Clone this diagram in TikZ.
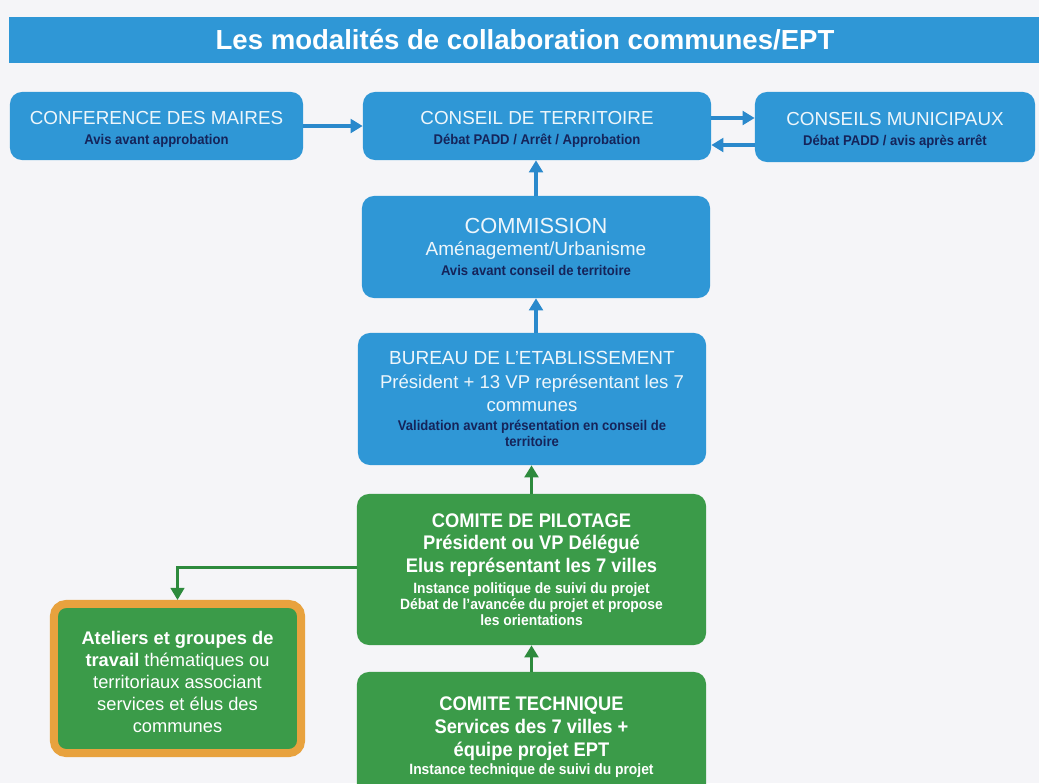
\documentclass[tikz,border=0pt]{standalone}
\usepackage{fontspec}
\setmainfont{Liberation Sans}
\newfontfamily\narrowsf[FakeStretch=0.93]{Liberation Sans}
\usetikzlibrary{arrows.meta,positioning}
\definecolor{eptblue}{HTML}{2F97D6}
\definecolor{eptarrow}{HTML}{2A89CC}
\definecolor{eptgreen}{HTML}{3B9B49}
\definecolor{eptgarrow}{HTML}{2D8A3D}
\definecolor{eptorange}{HTML}{E8A23E}
\definecolor{eptnavy}{HTML}{15245A}
\definecolor{eptpaper}{HTML}{F5F5F8}
\definecolor{eptlight}{HTML}{EEF6FB}
\newcommand{\hd}{\fontsize{13.4}{16}\selectfont\rule{0pt}{14pt}}
\newcommand{\mdsz}{\fontsize{13.2}{16}\selectfont}
\newcommand{\sm}{\narrowsf\bfseries\fontsize{10}{16}\selectfont\color{eptnavy}}
\newcommand{\gh}{\narrowsf\bfseries\fontsize{14}{16}\selectfont}
\newcommand{\gsm}{\narrowsf\bfseries\fontsize{10.6}{16}\selectfont}
\begin{document}
\begin{tikzpicture}[x=0.025cm,y=-0.025cm,
 blk/.style={fill=eptblue,rounded corners=3mm,align=center,inner sep=0pt,text=eptlight,%
   font=\fontsize{13}{16}\selectfont},
 gblk/.style={fill=eptgreen,rounded corners=3mm,align=center,inner sep=0pt,text=white,%
   font=\fontsize{13}{16}\selectfont},
 arr/.style={-{Triangle[length=3mm,width=3.4mm]},draw=eptarrow,line width=2.2pt},
 garr/.style={-{Triangle[length=3mm,width=3.4mm]},draw=eptgarrow,line width=2.2pt}]
\fill[eptpaper] (0,0) rectangle (1039,783);
\useasboundingbox (0,0) rectangle (1039,783);
\node[fill=eptblue,text=white,font=\bfseries\fontsize{19.6}{22}\selectfont,%
  minimum width=25.8cm,minimum height=1.15cm,inner sep=0pt] (title) at (525,40)
  {Les modalités de collaboration communes/EPT};
\node[blk,minimum width=7.325cm,minimum height=1.7cm] (maires) at (156.5,126)
  {\hd CONFERENCE DES MAIRES\\[-1.8pt]\sm Avis avant approbation};
\node[blk,minimum width=8.7cm,minimum height=1.7cm] (terr) at (537,126)
  {\hd CONSEIL DE TERRITOIRE\\[-1.8pt]\sm Débat PADD / Arrêt / Approbation};
\node[blk,minimum width=7cm,minimum height=1.75cm] (munic) at (895,127)
  {\hd CONSEILS MUNICIPAUX\\[-1.8pt]\sm Débat PADD / avis après arrêt};
\node[blk,minimum width=8.7cm,minimum height=2.55cm] (comm) at (536,247)
  {\fontsize{15.5}{16}\selectfont COMMISSION\\[-0.4pt]\fontsize{13.5}{16}\selectfont Aménagement/Urbanisme\\[-1.8pt]%
  \sm Avis avant conseil de territoire};
\node[blk,minimum width=8.7cm,minimum height=3.3cm] (bureau) at (532,399)
  {\fontsize{13.5}{16}\selectfont BUREAU DE L’ETABLISSEMENT\\[0.4pt]\mdsz Président + 13 VP représentant les 7\\[0.4pt]%
  \mdsz communes\\[-2.5pt]%
  \sm Validation avant présentation en conseil de\\[-4.6pt]\sm territoire};
\node[gblk,minimum width=8.725cm,minimum height=3.775cm] (copil) at (531.5,569.5)
  {\gh COMITE DE PILOTAGE\\\gh Président ou VP Délégué\\\gh Elus représentant les 7 villes\\[-1pt]%
  \gsm Instance politique de suivi du projet\\[-4.6pt]\gsm Débat de l’avancée du projet et propose\\[-4.6pt]%
  \gsm les orientations};
\node[gblk,draw=eptorange,line width=0.2cm,minimum width=6.175cm,minimum height=3.725cm,%
  font=\fontsize{13}{15.7}\selectfont] (ateliers) at (177.5,678.5)
  {\rule{0pt}{14pt}\textbf{Ateliers et groupes de}\\\textbf{travail} thématiques ou\\territoriaux associant\\%
  services et élus des\\communes};
\node[gblk,minimum width=8.725cm,minimum height=3.25cm] (cotech) at (531.5,737)
  {\gh COMITE TECHNIQUE\\[0.3pt]\gh Services des 7 villes +\\[0.3pt]\gh équipe projet EPT\\[-3.5pt]%
  \gsm Instance technique de suivi du projet};
\draw[arr] (maires)--(terr);
\draw[arr] ([yshift=2mm]terr.east)--([yshift=2mm]terr.east -| munic.west);
\draw[arr] ([yshift=-4.5mm]munic.west)--([yshift=-4.5mm]munic.west -| terr.east);
\draw[arr] (comm.north)--(comm.north |- terr.south);
\draw[arr] (bureau.north -| comm.south)--(comm.south);
\draw[garr] (copil.north)--(copil.north |- bureau.south);
\draw[garr] (cotech.north)--(copil.south);
\draw[garr,line width=1.6pt] ([yshift=0.5mm]copil.west) -| (ateliers.north);
\end{tikzpicture}
\end{document}
